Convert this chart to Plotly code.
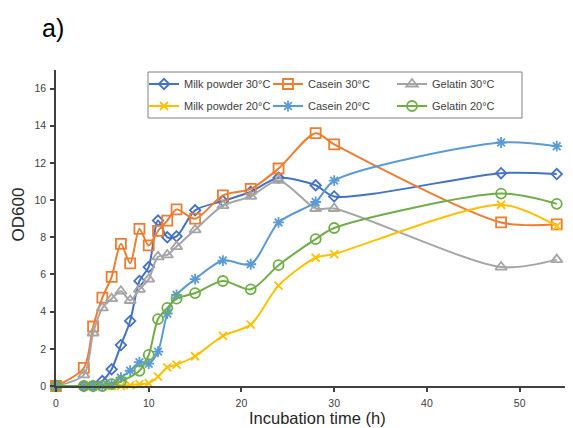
import plotly.graph_objects as go

# ---- data ----
time_h = [0, 3, 4, 5, 6, 7, 8, 9, 10, 11, 12, 13, 15, 18, 21, 24, 28, 30, 48, 54]

milk_30 = [0, 0, 0, 0.27, 0.9, 2.2, 3.5, 5.65, 6.4, 8.9, 8.0, 8.05, 9.45, 9.95, 10.45, 11.2, 10.8, 10.2, 11.45, 11.4]
casein_30 = [0, 0.97, 3.2, 4.75, 5.87, 7.65, 6.6, 8.45, 7.56, 8.35, 8.9, 9.5, 9.0, 10.25, 10.6, 11.7, 13.6, 13.0, 8.8, 8.7]
gelatin_30 = [0, 0.6, 2.85, 4.2, 4.7, 5.1, 4.6, 5.2, 5.75, 6.95, 7.05, 7.5, 8.4, 9.7, 10.2, 11.06, 9.55, 9.55, 6.4, 6.8]
milk_20 = [0, 0, 0, 0, 0, 0, 0.05, 0.1, 0.15, 0.5, 1.0, 1.15, 1.6, 2.7, 3.3, 5.4, 6.9, 7.1, 9.75, 8.6]
casein_20 = [0, 0, 0, 0, 0.1, 0.45, 0.82, 1.28, 1.2, 1.85, 3.9, 4.9, 5.75, 6.75, 6.55, 8.8, 9.9, 11.05, 13.1, 12.9]
gelatin_20 = [0, 0, 0, 0, 0.1, 0.25, None, 0.82, 1.67, 3.6, 4.2, 4.7, 5.0, 5.65, 5.2, 6.5, 7.9, 8.5, 10.35, 9.8]

series = [
    ("Milk powder 30°C", milk_30, "#4472C4", "diamond-open", 8, "legend"),
    ("Casein 30°C", casein_30, "#ED7D31", "square-open", 10, "legend"),
    ("Gelatin 30°C", gelatin_30, "#A5A5A5", "triangle-up-open", 10, "legend"),
    ("Milk powder 20°C", milk_20, "#FFC000", "x-thin-open", 8, "legend2"),
    ("Casein 20°C", casein_20, "#5B9BD5", "asterisk-open", 9, "legend2"),
    ("Gelatin 20°C", gelatin_20, "#70AD47", "circle-open", 10, "legend2"),
]

x_ticks = [0, 10, 20, 30, 40, 50]
y_ticks = [0, 2, 4, 6, 8, 10, 12, 14, 16]

x_title = "Incubation time (h)"
y_title = "OD600"
panel_label = "a)"

FONT = "Liberation Sans, Arial, sans-serif"

fig = go.Figure()
for name, vals, color, sym, size, leg in series:
    fig.add_trace(go.Scatter(
        x=time_h, y=vals, name=name, mode="lines+markers",
        connectgaps=True,
        line=dict(color=color, width=2, shape="spline", smoothing=0.8),
        marker=dict(symbol=sym, size=size, color=color, line=dict(color=color, width=1.8)),
        cliponaxis=False,
        legend=leg,
    ))

# page body has an 8px margin, so the figure is drawn 8px smaller and
# reference pixel positions are shifted by OFF
OFF = 8
W, H = 573 - OFF, 428 - OFF
ml, mt = 56 - OFF, 70 - OFF
plot_right, plot_bottom = 566 - OFF, 386 - OFF
mr, mb = W - plot_right, H - plot_bottom
pw, ph = W - ml - mr, H - mt - mb

def px_x(p):
    return (p - OFF - ml) / pw

def px_y(p):
    return (H - mb - (p - OFF)) / ph

legend_common = dict(
    orientation="h", xanchor="left", yanchor="middle",
    bgcolor="rgba(0,0,0,0)", borderwidth=0,
    font=dict(family=FONT, size=11, color="#404040"),
    entrywidth=79, entrywidthmode="pixels",
    itemclick=False, itemdoubleclick=False,
)

fig.update_layout(
    width=W, height=H,
    margin=dict(l=ml, r=mr, t=mt, b=mb, autoexpand=False),
    paper_bgcolor="white", plot_bgcolor="white",
    font=dict(family=FONT, color="#404040"),
    showlegend=True,
    legend=dict(x=px_x(144), y=px_y(84), **legend_common),
    legend2=dict(x=px_x(144), y=px_y(106), **legend_common),
    xaxis=dict(
        range=[0, 55], tickvals=x_ticks, showgrid=False, zeroline=False,
        showline=True, linecolor="#404040", linewidth=1.5,
        ticks="outside", ticklen=4, tickwidth=1.5, tickcolor="#404040",
        ticklabelstandoff=3, automargin=False,
        tickfont=dict(family=FONT, size=10.5, color="#404040"),
    ),
    yaxis=dict(
        range=[0, 17], tickvals=y_ticks, showgrid=False, zeroline=False,
        showline=True, linecolor="#404040", linewidth=1.5,
        ticks="outside", ticklen=4, tickwidth=1.5, tickcolor="#404040",
        ticklabelstandoff=2, automargin=False,
        tickfont=dict(family=FONT, size=10.5, color="#404040"),
    ),
    shapes=[dict(
        type="rect", xref="paper", yref="paper",
        x0=px_x(148), x1=px_x(522), y0=px_y(118), y1=px_y(72),
        line=dict(color="#808080", width=1), fillcolor="white", layer="below",
    )],
    annotations=[
        dict(text=panel_label, xref="paper", yref="paper", x=px_x(40), y=px_y(28),
             xanchor="left", yanchor="middle", showarrow=False,
             font=dict(family=FONT, size=25, color="black")),
        dict(text=y_title, xref="paper", yref="paper", x=px_x(17.5), y=px_y(215),
             xanchor="center", yanchor="middle", textangle=-90, showarrow=False,
             font=dict(family=FONT, size=17, color="#262626")),
        dict(text=x_title, xref="paper", yref="paper", x=px_x(317), y=px_y(418),
             xanchor="center", yanchor="middle", showarrow=False,
             font=dict(family=FONT, size=16.5, color="#262626")),
    ],
)

fig.write_html("out.html")
